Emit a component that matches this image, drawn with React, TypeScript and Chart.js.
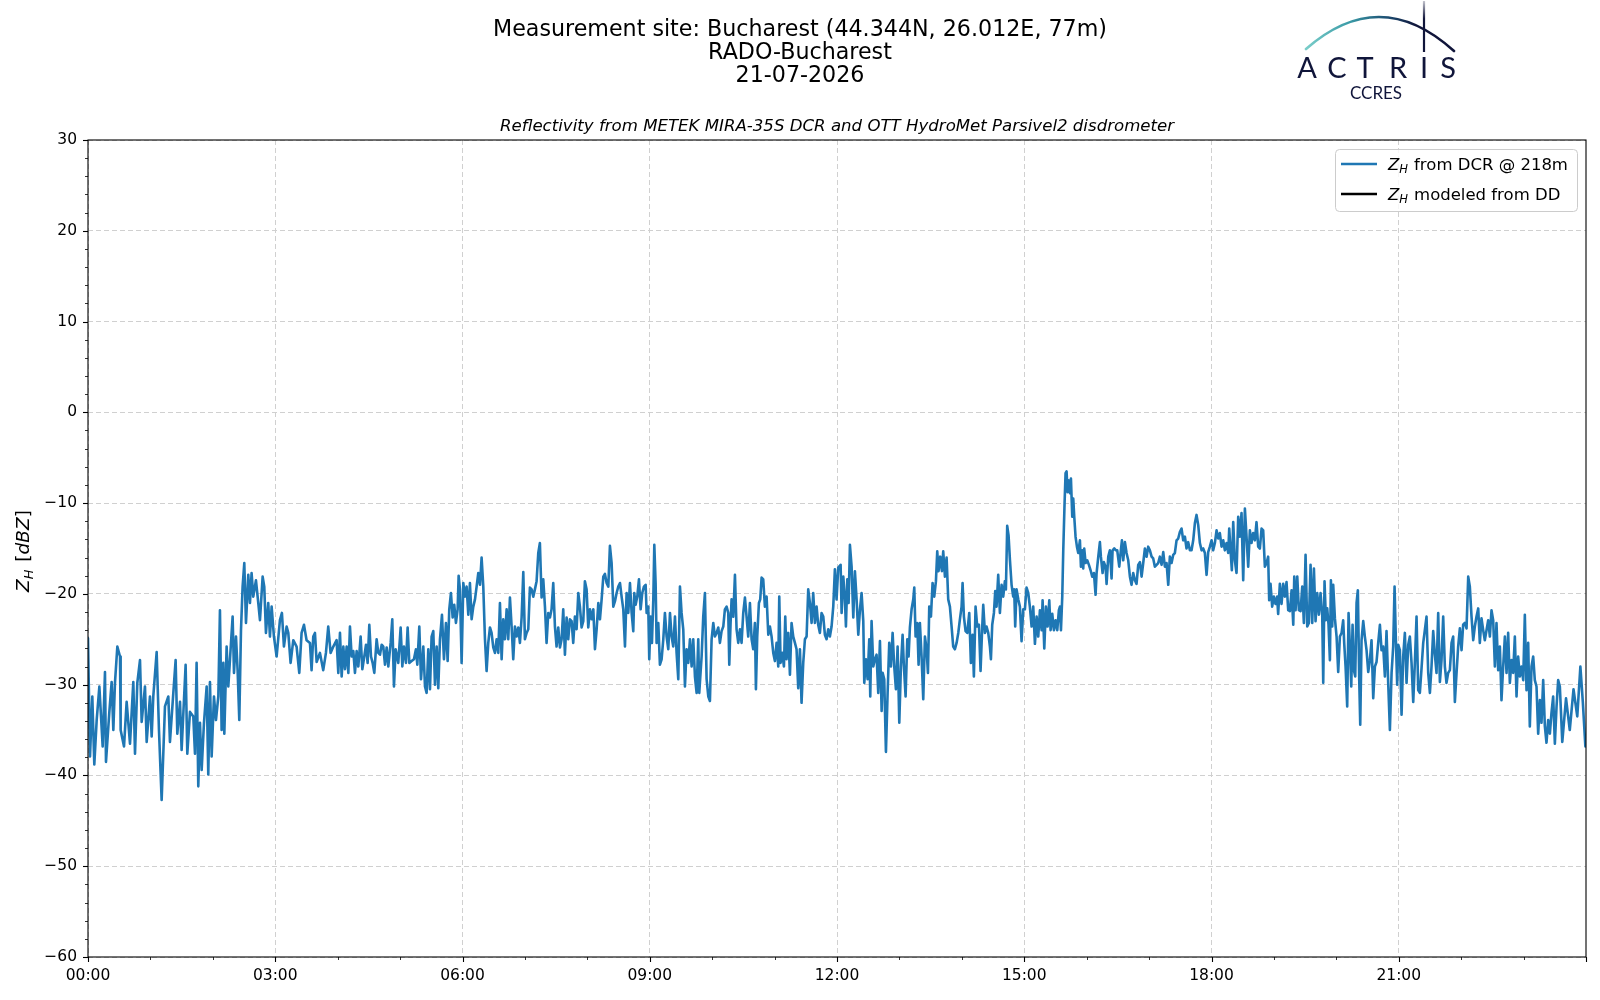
import React, { useEffect, useRef } from "react";
import { Chart, registerables } from "chart.js";

Chart.register(...registerables);

const TITLE_LINES = [
  "Measurement site: Bucharest (44.344N, 26.012E, 77m)",
  "RADO-Bucharest",
  "21-07-2026",
];
const SUBTITLE = "Reflectivity from METEK MIRA-35S DCR and OTT HydroMet Parsivel2 disdrometer";
const LEGEND_SUFFIXES = [" from DCR @ 218m", " modeled from DD"];
const SERIES_COLORS = ["#1f77b4", "#000000"];
const X_TICKS = [0, 3, 6, 9, 12, 15, 18, 21];
const Y_TICKS = [30, 20, 10, 0, -10, -20, -30, -40, -50, -60];
const LOGO_LETTERS = ["A", "C", "T", "R", "I", "S"];

// [hour of day, Z_H in dBZ]
const zhDcr: [number, number][] = [
  [0, -24.9], [0.032, -37.9], [0.069, -31.3], [0.101, -38.8], [0.139, -33.9], [0.182, -30.2], [0.235, -36.8], [0.272, -28.6],
  [0.288, -38.5], [0.342, -33.0], [0.379, -29.7], [0.406, -35.0], [0.432, -29.8], [0.47, -25.8], [0.513, -26.9], [0.523, -35.0],
  [0.577, -36.8], [0.619, -31.9], [0.673, -36.5], [0.726, -29.7], [0.753, -37.6], [0.79, -29.8], [0.833, -27.3], [0.86, -34.1],
  [0.913, -30.2], [0.94, -36.3], [0.993, -31.3], [1.02, -35.7], [1.046, -31.3], [1.1, -26.4], [1.137, -35.0], [1.18, -42.7],
  [1.233, -32.4], [1.287, -31.3], [1.313, -36.3], [1.367, -30.9], [1.404, -27.3], [1.431, -35.4], [1.474, -31.9], [1.5, -37.2],
  [1.564, -27.8], [1.591, -37.6], [1.634, -33.0], [1.687, -33.5], [1.714, -37.6], [1.74, -27.6], [1.767, -41.2], [1.794, -34.2],
  [1.821, -39.4], [1.858, -34.2], [1.901, -30.2], [1.927, -39.9], [1.954, -29.7], [1.981, -37.9], [2.018, -31.3], [2.05, -33.9],
  [2.088, -31.3], [2.114, -21.8], [2.141, -35.0], [2.168, -27.6], [2.184, -35.4], [2.221, -25.8], [2.248, -30.2], [2.274, -27.3],
  [2.317, -22.5], [2.339, -28.7], [2.371, -24.7], [2.397, -28.4], [2.424, -33.9], [2.451, -24.0], [2.477, -19.2], [2.504, -16.6],
  [2.531, -23.2], [2.568, -17.9], [2.595, -21.0], [2.621, -17.7], [2.648, -20.3], [2.691, -18.5], [2.728, -21.0], [2.755, -22.9],
  [2.798, -18.1], [2.824, -19.2], [2.851, -24.3], [2.888, -21.0], [2.915, -24.7], [2.942, -21.4], [2.979, -24.7], [3.022, -26.9],
  [3.075, -22.9], [3.107, -22.1], [3.139, -25.8], [3.182, -23.6], [3.209, -24.3], [3.246, -27.6], [3.289, -25.1], [3.342, -25.8],
  [3.385, -28.7], [3.422, -24.3], [3.46, -23.4], [3.502, -25.1], [3.556, -25.4], [3.582, -28.4], [3.609, -24.7], [3.636, -24.3],
  [3.663, -27.5], [3.716, -26.5], [3.769, -28.4], [3.812, -26.5], [3.849, -23.6], [3.887, -26.5], [3.93, -25.8], [3.983, -25.1],
  [4.01, -28.7], [4.037, -24.3], [4.064, -29.1], [4.091, -25.8], [4.117, -28.3], [4.144, -25.8], [4.171, -28.7], [4.197, -23.6],
  [4.224, -26.9], [4.251, -26.3], [4.277, -28.7], [4.304, -26.3], [4.331, -28.0], [4.368, -24.7], [4.395, -28.3], [4.422, -27.1],
  [4.454, -25.6], [4.48, -27.6], [4.507, -23.4], [4.534, -26.9], [4.56, -27.6], [4.587, -28.7], [4.624, -25.0], [4.651, -26.5],
  [4.678, -26.7], [4.705, -25.6], [4.731, -25.8], [4.758, -27.8], [4.785, -25.9], [4.811, -28.0], [4.849, -25.4], [4.875, -22.8],
  [4.902, -30.2], [4.929, -26.1], [4.971, -27.6], [5.009, -23.7], [5.036, -28.0], [5.062, -25.8], [5.094, -27.6], [5.121, -23.7],
  [5.148, -27.6], [5.185, -27.4], [5.222, -27.2], [5.254, -26.1], [5.276, -27.8], [5.308, -23.6], [5.335, -29.4], [5.372, -25.8],
  [5.399, -30.2], [5.425, -30.9], [5.452, -26.1], [5.479, -30.5], [5.505, -24.7], [5.532, -24.1], [5.559, -30.0], [5.586, -25.8],
  [5.612, -30.4], [5.639, -25.0], [5.671, -22.3], [5.703, -27.2], [5.735, -23.2], [5.762, -27.4], [5.788, -21.7], [5.815, -19.9],
  [5.842, -22.6], [5.868, -21.2], [5.895, -23.2], [5.922, -21.7], [5.938, -18.0], [5.959, -19.5], [5.986, -27.6], [6.013, -18.8],
  [6.039, -20.3], [6.066, -19.2], [6.093, -22.3], [6.119, -18.8], [6.146, -22.8], [6.173, -21.4], [6.2, -20.6], [6.226, -19.2],
  [6.253, -17.7], [6.28, -19.0], [6.306, -16.0], [6.333, -19.2], [6.36, -25.0], [6.386, -28.5], [6.413, -25.4], [6.44, -23.7],
  [6.466, -24.3], [6.493, -25.9], [6.52, -26.5], [6.547, -25.0], [6.573, -26.5], [6.6, -21.0], [6.627, -27.2], [6.653, -22.8],
  [6.68, -25.0], [6.707, -21.7], [6.733, -25.0], [6.76, -20.4], [6.787, -23.6], [6.813, -27.2], [6.84, -23.6], [6.867, -24.7],
  [6.894, -23.7], [6.92, -25.4], [6.947, -22.6], [6.974, -17.6], [7.0, -25.0], [7.027, -24.3], [7.054, -23.9], [7.08, -19.3],
  [7.107, -19.5], [7.134, -20.3], [7.16, -19.5], [7.187, -18.6], [7.214, -15.5], [7.24, -14.4], [7.267, -20.4], [7.294, -18.4],
  [7.321, -21.4], [7.347, -25.4], [7.374, -22.1], [7.401, -22.6], [7.427, -21.7], [7.454, -18.8], [7.481, -23.6], [7.507, -25.8],
  [7.534, -23.7], [7.561, -25.9], [7.588, -25.0], [7.614, -21.7], [7.641, -26.7], [7.668, -22.6], [7.694, -25.0], [7.721, -22.8],
  [7.748, -23.0], [7.774, -25.4], [7.801, -22.5], [7.828, -23.9], [7.855, -19.9], [7.881, -21.4], [7.908, -23.7], [7.935, -23.0],
  [7.961, -18.6], [7.988, -19.5], [8.015, -23.7], [8.042, -21.7], [8.069, -22.8], [8.096, -21.7], [8.122, -26.1], [8.149, -23.9],
  [8.176, -21.0], [8.202, -22.8], [8.229, -20.6], [8.256, -18.1], [8.282, -17.8], [8.309, -18.8], [8.336, -19.2], [8.362, -14.7],
  [8.389, -16.6], [8.416, -21.4], [8.443, -20.8], [8.469, -19.9], [8.496, -19.2], [8.523, -18.8], [8.549, -20.3], [8.576, -21.7],
  [8.603, -25.8], [8.629, -19.9], [8.656, -22.1], [8.683, -18.8], [8.71, -22.1], [8.736, -24.1], [8.752, -19.9], [8.774, -21.2],
  [8.8, -20.3], [8.827, -18.4], [8.854, -21.7], [8.88, -19.9], [8.907, -19.2], [8.934, -19.0], [8.95, -22.1], [8.976, -21.4],
  [8.992, -27.2], [9.014, -22.5], [9.035, -25.4], [9.057, -20.6], [9.073, -14.6], [9.094, -18.8], [9.11, -25.4], [9.137, -23.2],
  [9.163, -27.8], [9.19, -27.2], [9.217, -25.0], [9.243, -22.1], [9.27, -24.7], [9.297, -26.1], [9.324, -22.1], [9.35, -24.7],
  [9.377, -25.8], [9.404, -22.5], [9.43, -26.5], [9.457, -29.4], [9.484, -19.2], [9.51, -22.1], [9.537, -23.9], [9.564, -30.2],
  [9.59, -26.1], [9.617, -27.6], [9.644, -25.0], [9.671, -28.0], [9.697, -25.0], [9.724, -29.1], [9.751, -30.9], [9.777, -25.0],
  [9.793, -30.9], [9.831, -26.9], [9.857, -22.5], [9.884, -19.9], [9.911, -29.4], [9.938, -31.3], [9.964, -31.8], [9.991, -25.0],
  [10.018, -23.2], [10.044, -24.7], [10.071, -24.3], [10.098, -23.7], [10.124, -25.4], [10.151, -24.1], [10.178, -23.6], [10.204, -21.7],
  [10.231, -21.4], [10.258, -22.1], [10.274, -27.8], [10.295, -23.2], [10.311, -20.6], [10.338, -22.5], [10.365, -17.9], [10.391, -23.9],
  [10.418, -25.4], [10.445, -23.9], [10.471, -25.4], [10.498, -22.1], [10.525, -20.4], [10.551, -22.5], [10.578, -24.7], [10.605, -21.0],
  [10.632, -25.0], [10.658, -26.1], [10.685, -23.2], [10.701, -30.5], [10.722, -24.7], [10.749, -21.0], [10.77, -20.6], [10.792, -18.2],
  [10.818, -18.4], [10.845, -21.4], [10.872, -20.3], [10.899, -24.5], [10.925, -23.6], [10.952, -24.7], [10.979, -26.5], [11.005, -27.4],
  [11.032, -25.4], [11.059, -28.0], [11.075, -20.3], [11.096, -27.6], [11.123, -26.5], [11.15, -28.0], [11.171, -22.5], [11.192, -27.2],
  [11.219, -24.3], [11.246, -28.9], [11.272, -23.2], [11.299, -24.7], [11.326, -25.4], [11.352, -26.1], [11.379, -30.4], [11.406, -26.1],
  [11.432, -32.0], [11.459, -27.6], [11.486, -25.0], [11.513, -24.7], [11.539, -19.5], [11.566, -21.0], [11.593, -23.2], [11.619, -19.9],
  [11.646, -23.2], [11.673, -21.4], [11.699, -23.4], [11.726, -24.3], [11.753, -22.1], [11.78, -22.5], [11.806, -24.5], [11.833, -25.0],
  [11.86, -23.9], [11.886, -24.7], [11.913, -23.6], [11.94, -21.4], [11.966, -17.3], [11.993, -20.6], [12.02, -17.1], [12.058, -16.8],
  [12.074, -22.1], [12.101, -18.1], [12.127, -20.6], [12.143, -23.6], [12.165, -18.4], [12.186, -21.0], [12.207, -14.6], [12.234, -17.0],
  [12.261, -22.6], [12.287, -17.5], [12.314, -20.6], [12.341, -24.5], [12.368, -21.7], [12.394, -19.9], [12.421, -23.0], [12.437, -29.8],
  [12.464, -27.2], [12.49, -29.4], [12.517, -25.0], [12.533, -31.3], [12.554, -23.0], [12.581, -28.0], [12.608, -27.2], [12.634, -26.7],
  [12.661, -30.9], [12.688, -25.2], [12.715, -32.9], [12.731, -28.7], [12.757, -29.4], [12.784, -37.4], [12.811, -30.9], [12.837, -25.4],
  [12.864, -28.0], [12.891, -24.3], [12.917, -28.0], [12.944, -30.5], [12.971, -25.8], [12.998, -34.2], [13.024, -28.0], [13.051, -24.5],
  [13.072, -28.0], [13.099, -31.3], [13.126, -25.0], [13.147, -26.9], [13.168, -23.7], [13.195, -21.7], [13.222, -20.6], [13.238, -19.3],
  [13.259, -24.7], [13.286, -23.2], [13.307, -27.8], [13.328, -23.2], [13.355, -26.9], [13.382, -31.6], [13.409, -24.7], [13.435, -26.1],
  [13.457, -28.7], [13.478, -21.4], [13.505, -22.5], [13.531, -18.8], [13.558, -20.3], [13.585, -18.6], [13.606, -15.3], [13.627, -17.5],
  [13.654, -15.9], [13.681, -17.5], [13.702, -15.3], [13.729, -18.1], [13.756, -16.0], [13.782, -20.6], [13.809, -21.4], [13.836, -23.6],
  [13.862, -25.8], [13.889, -26.1], [13.916, -25.4], [13.943, -24.3], [13.969, -22.8], [13.996, -21.4], [14.012, -18.8], [14.033, -22.5],
  [14.06, -24.1], [14.087, -24.3], [14.119, -22.1], [14.145, -27.6], [14.172, -24.5], [14.193, -29.1], [14.22, -21.4], [14.247, -23.6],
  [14.274, -23.4], [14.3, -28.5], [14.327, -23.6], [14.343, -21.2], [14.37, -24.3], [14.396, -23.6], [14.423, -24.3], [14.45, -25.8],
  [14.466, -27.2], [14.487, -23.4], [14.514, -22.1], [14.535, -19.7], [14.556, -21.4], [14.583, -17.9], [14.61, -22.1], [14.637, -19.0],
  [14.663, -20.3], [14.69, -18.6], [14.706, -19.5], [14.727, -12.5], [14.749, -13.6], [14.77, -16.2], [14.797, -19.0], [14.823, -20.3],
  [14.839, -19.5], [14.855, -23.6], [14.877, -19.5], [14.904, -20.6], [14.93, -21.4], [14.957, -25.2], [14.984, -21.7], [15.01, -21.7],
  [15.037, -19.3], [15.064, -19.9], [15.09, -21.4], [15.118, -23.6], [15.144, -21.4], [15.171, -25.5], [15.198, -22.5], [15.224, -24.7],
  [15.251, -21.8], [15.278, -24.0], [15.294, -20.7], [15.321, -26.0], [15.347, -21.4], [15.374, -23.6], [15.401, -20.7], [15.422, -24.0],
  [15.449, -22.2], [15.475, -24.0], [15.502, -22.9], [15.529, -24.0], [15.555, -21.8], [15.572, -21.4], [15.588, -24.0], [15.609, -20.3],
  [15.625, -15.2], [15.646, -10.0], [15.662, -6.7], [15.678, -6.5], [15.694, -8.8], [15.716, -7.5], [15.732, -8.9], [15.748, -7.3],
  [15.769, -11.5], [15.785, -9.5], [15.801, -11.5], [15.822, -13.7], [15.844, -14.8], [15.865, -15.5], [15.892, -14.1], [15.908, -17.0],
  [15.929, -15.2], [15.945, -17.2], [15.961, -15.0], [15.983, -16.6], [16.009, -16.3], [16.036, -16.8], [16.063, -17.4], [16.089, -18.1],
  [16.116, -17.7], [16.143, -20.1], [16.159, -17.7], [16.186, -15.9], [16.212, -14.3], [16.228, -15.9], [16.255, -17.7], [16.276, -16.5],
  [16.303, -17.0], [16.319, -18.9], [16.346, -15.9], [16.372, -15.2], [16.399, -18.3], [16.415, -15.2], [16.442, -15.0], [16.469, -15.2],
  [16.49, -15.2], [16.522, -17.0], [16.543, -15.5], [16.565, -14.1], [16.586, -16.3], [16.613, -14.3], [16.639, -15.5], [16.666, -16.3],
  [16.693, -18.1], [16.719, -19.0], [16.746, -17.7], [16.773, -18.5], [16.799, -18.9], [16.826, -16.8], [16.853, -16.5], [16.88, -18.1],
  [16.906, -16.6], [16.933, -15.0], [16.96, -15.9], [16.986, -14.8], [17.013, -15.2], [17.04, -15.9], [17.066, -16.1], [17.093, -17.0],
  [17.12, -16.8], [17.146, -16.6], [17.173, -15.9], [17.2, -16.8], [17.227, -15.4], [17.253, -17.0], [17.28, -16.6], [17.307, -19.0],
  [17.333, -15.9], [17.36, -16.6], [17.387, -15.7], [17.413, -15.5], [17.44, -14.1], [17.467, -13.9], [17.493, -13.2], [17.52, -12.8],
  [17.547, -14.1], [17.574, -13.7], [17.6, -15.0], [17.627, -14.3], [17.654, -15.2], [17.68, -15.2], [17.707, -14.1], [17.734, -12.2],
  [17.76, -11.3], [17.787, -12.4], [17.814, -14.4], [17.841, -15.2], [17.867, -15.0], [17.894, -15.5], [17.921, -17.9], [17.947, -15.4],
  [17.974, -14.8], [18.001, -14.1], [18.027, -15.2], [18.054, -14.4], [18.081, -13.0], [18.108, -13.9], [18.134, -13.3], [18.161, -14.8],
  [18.188, -14.1], [18.214, -15.2], [18.241, -14.4], [18.268, -15.5], [18.284, -12.8], [18.305, -15.2], [18.326, -17.4], [18.348, -12.1],
  [18.374, -16.3], [18.401, -17.7], [18.428, -11.5], [18.455, -13.7], [18.481, -11.1], [18.508, -18.5], [18.535, -10.6], [18.561, -13.7],
  [18.588, -17.0], [18.615, -13.0], [18.641, -14.4], [18.668, -13.3], [18.695, -14.1], [18.721, -12.1], [18.748, -14.8], [18.775, -15.0],
  [18.802, -12.8], [18.828, -13.0], [18.855, -17.0], [18.882, -16.6], [18.908, -15.9], [18.924, -20.7], [18.946, -18.9], [18.972, -21.4],
  [18.999, -20.3], [19.026, -21.1], [19.052, -20.3], [19.068, -22.2], [19.095, -18.9], [19.122, -21.1], [19.149, -18.9], [19.175, -20.3],
  [19.202, -18.7], [19.229, -21.8], [19.256, -21.9], [19.283, -19.6], [19.31, -23.4], [19.326, -18.1], [19.347, -21.8], [19.374, -18.1],
  [19.4, -21.8], [19.427, -21.9], [19.454, -19.2], [19.48, -23.2], [19.507, -15.7], [19.534, -23.6], [19.56, -23.2], [19.587, -16.8],
  [19.614, -23.2], [19.641, -17.2], [19.667, -23.0], [19.694, -19.9], [19.721, -22.3], [19.747, -19.9], [19.774, -22.3], [19.79, -29.8],
  [19.811, -18.6], [19.833, -22.9], [19.854, -21.6], [19.875, -23.4], [19.897, -27.3], [19.913, -18.5], [19.934, -23.6], [19.95, -19.0],
  [19.977, -22.7], [20.004, -24.7], [20.03, -28.6], [20.057, -24.7], [20.084, -24.3], [20.11, -22.9], [20.126, -25.4], [20.148, -28.0],
  [20.174, -32.4], [20.196, -22.1], [20.217, -25.8], [20.239, -30.2], [20.26, -23.4], [20.281, -28.4], [20.303, -29.1], [20.324, -21.0],
  [20.345, -19.6], [20.367, -29.5], [20.383, -34.4], [20.404, -25.1], [20.431, -23.0], [20.457, -24.7], [20.484, -26.2], [20.511, -28.6],
  [20.538, -27.3], [20.564, -25.1], [20.591, -31.5], [20.618, -28.0], [20.644, -27.5], [20.671, -25.4], [20.698, -23.4], [20.724, -26.2],
  [20.751, -25.8], [20.778, -29.1], [20.804, -24.1], [20.831, -29.8], [20.858, -35.0], [20.885, -28.7], [20.911, -25.8], [20.933, -19.2],
  [20.954, -25.1], [20.975, -30.0], [20.991, -25.6], [21.018, -26.2], [21.045, -33.3], [21.071, -26.9], [21.098, -24.3], [21.125, -29.8],
  [21.152, -25.6], [21.178, -24.7], [21.205, -27.6], [21.232, -31.9], [21.258, -27.6], [21.285, -22.5], [21.312, -30.6], [21.338, -30.9],
  [21.365, -28.2], [21.392, -25.4], [21.418, -24.0], [21.445, -22.5], [21.472, -28.7], [21.499, -30.9], [21.525, -28.0], [21.552, -24.1],
  [21.579, -26.7], [21.605, -28.7], [21.632, -22.1], [21.659, -29.7], [21.685, -27.3], [21.712, -22.5], [21.739, -28.0], [21.765, -29.8],
  [21.792, -28.7], [21.819, -28.4], [21.846, -25.4], [21.872, -24.7], [21.899, -31.9], [21.926, -28.7], [21.952, -25.8], [21.979, -23.8],
  [22.006, -26.2], [22.032, -23.4], [22.059, -23.2], [22.086, -23.8], [22.113, -18.1], [22.139, -19.2], [22.166, -22.5], [22.193, -25.1],
  [22.219, -23.6], [22.246, -22.5], [22.273, -21.6], [22.299, -25.4], [22.326, -22.7], [22.353, -24.0], [22.379, -25.1], [22.406, -24.0],
  [22.433, -22.9], [22.46, -24.7], [22.486, -21.8], [22.513, -22.9], [22.54, -28.0], [22.566, -23.2], [22.593, -28.4], [22.62, -25.8],
  [22.646, -31.7], [22.673, -28.0], [22.7, -24.7], [22.727, -28.7], [22.753, -24.3], [22.78, -29.8], [22.807, -27.3], [22.833, -28.7],
  [22.86, -24.7], [22.887, -31.3], [22.913, -26.9], [22.94, -29.1], [22.967, -28.0], [22.994, -29.5], [23.02, -22.3], [23.047, -30.6],
  [23.074, -25.4], [23.1, -34.6], [23.127, -28.0], [23.154, -26.9], [23.18, -29.5], [23.207, -30.2], [23.234, -35.4], [23.261, -31.7],
  [23.287, -34.2], [23.314, -29.5], [23.341, -34.6], [23.367, -36.4], [23.394, -33.9], [23.421, -35.4], [23.447, -33.1], [23.474, -31.3],
  [23.501, -36.5], [23.528, -32.4], [23.554, -29.5], [23.581, -30.2], [23.62, -36.3], [23.68, -31.5], [23.74, -35.0], [23.8, -30.5],
  [23.86, -33.5], [23.91, -28.0], [23.95, -32.0], [23.99, -36.8],
];
const zhModeled: [number, number][] = [];

const FONT = '"DejaVu Sans", "Liberation Sans", sans-serif';
const fmtHour = (h: number) => `${String(h).padStart(2, "0")}:00`;
const fmtNum = (v: number) => (v < 0 ? "\u2212" + Math.abs(v) : String(v));

function drawZH(ctx: CanvasRenderingContext2D, x: number, y: number, size: number, suffix: string) {
  let cx = x;
  ctx.font = `italic ${size}px ${FONT}`;
  ctx.fillText("Z", cx, y);
  cx += ctx.measureText("Z").width;
  const sub = size * 0.7;
  ctx.font = `italic ${sub}px ${FONT}`;
  ctx.fillText("H", cx, y + size * 0.2);
  cx += ctx.measureText("H").width + size * 0.05;
  ctx.font = `${size}px ${FONT}`;
  ctx.fillText(suffix, cx, y);
  cx += ctx.measureText(suffix).width;
  return cx;
}

const decorPlugin = {
  id: "decor",
  beforeDraw(chart: any) {
    const ctx = chart.ctx as CanvasRenderingContext2D;
    ctx.save();
    ctx.fillStyle = "#ffffff";
    ctx.fillRect(0, 0, chart.width, chart.height);
    ctx.restore();
  },
  afterDraw(chart: any) {
    const ctx = chart.ctx as CanvasRenderingContext2D;
    const { left, right, top, bottom } = chart.chartArea;
    const xs = chart.scales.x;
    const ys = chart.scales.y;
    ctx.save();

    // frame
    ctx.strokeStyle = "#000";
    ctx.lineWidth = 1.1;
    ctx.strokeRect(left, top, right - left, bottom - top);

    // tick marks (major + minor)
    for (let v = -60; v <= 30; v += 2) {
      const py = Math.round(ys.getPixelForValue(v)) + 0.5;
      const major = v % 10 === 0;
      ctx.lineWidth = major ? 1.1 : 0.8;
      ctx.beginPath();
      ctx.moveTo(left, py);
      ctx.lineTo(left - (major ? 5 : 3), py);
      ctx.stroke();
    }
    for (let h = 0; h <= 24; h += 1) {
      const px = Math.round(xs.getPixelForValue(h)) + 0.5;
      const major = h % 3 === 0;
      ctx.lineWidth = major ? 1.1 : 0.8;
      ctx.beginPath();
      ctx.moveTo(px, bottom);
      ctx.lineTo(px, bottom + (major ? 5 : 3));
      ctx.stroke();
    }

    // titles
    ctx.fillStyle = "#000";
    ctx.textAlign = "center";
    ctx.textBaseline = "alphabetic";
    ctx.font = `22.2px ${FONT}`;
    TITLE_LINES.forEach((line, i) => ctx.fillText(line, 800, 36 + i * 23));
    ctx.font = `italic 16.6px ${FONT}`;
    ctx.fillText(SUBTITLE, (left + right) / 2, 131);

    // y-axis label
    ctx.save();
    ctx.translate(29, 551);
    ctx.rotate(-Math.PI / 2);
    ctx.textAlign = "left";
    const ls = 18.5;
    ctx.font = `italic ${ls}px ${FONT}`;
    const wZ = ctx.measureText("Z").width;
    ctx.font = `italic ${ls * 0.7}px ${FONT}`;
    const wH = ctx.measureText("H").width;
    ctx.font = `${ls}px ${FONT}`;
    const wOpen = ctx.measureText(" [").width;
    const wClose = ctx.measureText("]").width;
    ctx.font = `italic ${ls}px ${FONT}`;
    const wD = ctx.measureText("dBZ").width;
    const total = wZ + wH + wOpen + wD + wClose + 2;
    let cx = -total / 2;
    ctx.font = `italic ${ls}px ${FONT}`;
    ctx.fillText("Z", cx, 0);
    cx += wZ;
    ctx.font = `italic ${ls * 0.7}px ${FONT}`;
    ctx.fillText("H", cx, ls * 0.2);
    cx += wH + 2;
    ctx.font = `${ls}px ${FONT}`;
    ctx.fillText(" [", cx, 0);
    cx += wOpen;
    ctx.font = `italic ${ls}px ${FONT}`;
    ctx.fillText("dBZ", cx, 0);
    cx += wD;
    ctx.font = `${ls}px ${FONT}`;
    ctx.fillText("]", cx, 0);
    ctx.restore();

    // legend
    const lx = 1335, ly = 149, lw = 242, lh = 62;
    ctx.beginPath();
    ctx.roundRect(lx + 0.5, ly + 0.5, lw, lh, 4);
    ctx.fillStyle = "rgba(255,255,255,0.8)";
    ctx.fill();
    ctx.strokeStyle = "#cccccc";
    ctx.lineWidth = 1;
    ctx.stroke();
    ctx.textAlign = "left";
    LEGEND_SUFFIXES.forEach((s, i) => {
      const ry = 164 + i * 30;
      ctx.strokeStyle = SERIES_COLORS[i];
      ctx.lineWidth = 2.6;
      ctx.lineCap = "butt";
      ctx.beginPath();
      ctx.moveTo(1341, ry);
      ctx.lineTo(1377, ry);
      ctx.stroke();
      ctx.fillStyle = "#000";
      drawZH(ctx, 1388, ry + 6, 16.5, s);
    });

    // logo
    const navy = "#10153a";
    const grad = ctx.createLinearGradient(1306, 0, 1453, 0);
    grad.addColorStop(0, "#79cdc9");
    grad.addColorStop(0.3, "#3a9aa6");
    grad.addColorStop(0.55, "#1d4f73");
    grad.addColorStop(0.75, navy);
    grad.addColorStop(1, navy);
    ctx.strokeStyle = grad;
    ctx.lineWidth = 2.6;
    ctx.lineCap = "round";
    ctx.beginPath();
    ctx.moveTo(1306, 49);
    ctx.quadraticCurveTo(1380, -16, 1454, 51);
    ctx.stroke();
    const g2 = ctx.createLinearGradient(0, 1, 0, 52);
    g2.addColorStop(0, "rgba(16,21,58,0.25)");
    g2.addColorStop(0.35, navy);
    g2.addColorStop(1, navy);
    ctx.strokeStyle = g2;
    ctx.lineWidth = 2.2;
    ctx.lineCap = "butt";
    ctx.beginPath();
    ctx.moveTo(1424, 1);
    ctx.lineTo(1424, 52);
    ctx.stroke();
    ctx.fillStyle = navy;
    ctx.textAlign = "center";
    ctx.font = `400 29px Lato, ${FONT}`;
    const letterX = [1307, 1337, 1365, 1398, 1424, 1448];
    LOGO_LETTERS.forEach((c, i) => ctx.fillText(c, letterX[i], 78));
    ctx.font = `400 17px Lato, ${FONT}`;
    ctx.fillText("CCRES", 1376, 99);

    ctx.restore();
  },
};

export default function App() {
  const canvasRef = useRef<HTMLCanvasElement | null>(null);

  useEffect(() => {
    const canvas = canvasRef.current;
    if (!canvas) return;
    const tickFont = { family: FONT, size: 15.5 };
    const chart = new Chart(canvas, {
      type: "line",
      data: {
        datasets: [
          {
            label: "Z_H from DCR @ 218m",
            data: zhDcr.map(([x, y]) => ({ x, y })),
            borderColor: SERIES_COLORS[0],
            backgroundColor: SERIES_COLORS[0],
            borderWidth: 2.6,
            pointRadius: 0,
            tension: 0,
            borderJoinStyle: "round",
            borderCapStyle: "round",
            fill: false,
          },
          {
            label: "Z_H modeled from DD",
            data: zhModeled.map(([x, y]) => ({ x, y })),
            borderColor: SERIES_COLORS[1],
            borderWidth: 2.6,
            pointRadius: 0,
            fill: false,
          },
        ],
      },
      options: {
        animation: false,
        responsive: false,
        devicePixelRatio: 1,
        events: [],
        layout: { padding: { top: 140, right: 14, left: 0, bottom: 0 } },
        plugins: {
          legend: { display: false },
          title: { display: false },
          tooltip: { enabled: false },
        },
        scales: {
          x: {
            type: "linear",
            min: 0,
            max: 24,
            afterBuildTicks: (s: any) => {
              s.ticks = X_TICKS.map((v) => ({ value: v }));
            },
            afterFit: (s: any) => {
              s.height = 43;
            },
            ticks: {
              callback: (v: any) => fmtHour(Number(v)),
              maxRotation: 0,
              autoSkip: false,
              padding: 10,
              color: "#000",
              font: tickFont,
            },
            grid: { color: "#d0d0d0", lineWidth: 1, drawTicks: false },
            border: { display: false, dash: [5, 3] },
          },
          y: {
            type: "linear",
            min: -60,
            max: 30,
            afterBuildTicks: (s: any) => {
              s.ticks = Y_TICKS.map((v) => ({ value: v }));
            },
            afterFit: (s: any) => {
              s.width = 88;
            },
            ticks: {
              callback: (v: any) => fmtNum(Number(v)),
              padding: 11,
              color: "#000",
              font: tickFont,
            },
            grid: { color: "#d0d0d0", lineWidth: 1, drawTicks: false },
            border: { display: false, dash: [5, 3] },
          },
        },
      },
      plugins: [decorPlugin],
    } as any);
    return () => chart.destroy();
  }, []);

  return (
    <div style={{ position: "absolute", left: 0, top: 0, width: 1600, height: 1000, background: "#fff" }}>
      <canvas ref={canvasRef} width={1600} height={1000} style={{ width: 1600, height: 1000, display: "block" }} />
    </div>
  );
}
